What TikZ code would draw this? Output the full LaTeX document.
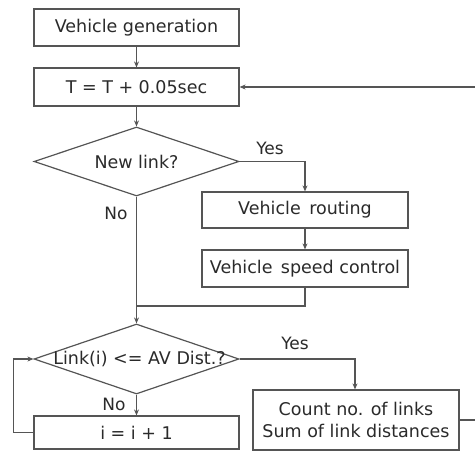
\documentclass[tikz,border=0pt]{standalone}
\usepackage{fontspec}
\setmainfont{DejaVu Sans}
\usetikzlibrary{arrows.meta,shapes.geometric}
\definecolor{linegray}{HTML}{555555}
\definecolor{textgray}{HTML}{2a2a2a}
\tikzset{
  box/.style={draw=linegray, line width=1.2pt, rectangle, minimum width=205pt,
    inner sep=0pt, align=center, text=textgray, font=\fontsize{17.5}{22}\selectfont},
  decision/.style={draw=linegray, line width=1.2pt, diamond, minimum width=205pt,
    minimum height=69pt, inner sep=0pt, text=textgray, font=\fontsize{17.5}{22}\selectfont},
  flow/.style={draw=linegray, line width=1.2pt, -{Stealth[length=6pt,width=5pt]}},
  link/.style={draw=linegray, line width=1.2pt},
  tag/.style={text=textgray, font=\fontsize{17}{20}\selectfont, inner sep=0pt}
}
\begin{document}
\begin{tikzpicture}[x=1pt,y=-1pt]
\useasboundingbox[fill=white] (0,0) rectangle (475,456);

% process boxes
\node[box, minimum height=37pt] (gen) at (136.5,27.5) {Vehicle generation};
\node[box, minimum height=38pt] (tick) at (136.5,87) {T = T + 0.05sec};
\node[decision] (newlink) at (136.5,161.5) {\makebox[0pt]{New link?}};
\node[box, minimum width=206pt, minimum height=36pt] (route) at (305,210) {Vehicle\, routing};
\node[box, minimum width=206pt, minimum height=37pt] (speed) at (305,268.5) {Vehicle\, speed control};
\node[decision, minimum height=70pt] (dist) at (136.5,359) {\makebox[0pt]{\hspace*{6pt}Link(i) <= AV Dist.?}};
\node[box, minimum height=33pt] (incr) at (136.5,432.5) {i = i + 1};
\node[box, minimum width=206pt, minimum height=60pt, font=\fontsize{17.5}{22}\selectfont] (count) at (356,420) {Count no. of links\\Sum of link distances};

% helper points
\coordinate (merge) at (136.5,306);
\coordinate (backtop) at (478,87);
\coordinate (backbot) at (478,420);

% branch labels
\node[tag] (yes1) at (270,148) {Yes};
\node[tag] (no1) at (116,213) {No};
\node[tag] (yes2) at (295,343) {Yes};
\node[tag] (no2) at (114,404) {No};

% connectors
\draw[flow] (gen) -- (tick);
\draw[flow] (tick) -- (newlink);
\draw[flow] (newlink.east) -| (route.north);
\draw[flow] (route) -- (speed);
\draw[link] (speed.south) |- (merge);
\draw[flow] (newlink.south) -- (dist.north);
\draw[flow] (dist.south) -- (incr.north);
\draw[flow] (incr.west) -- ++(-20,0) |- (dist.west);
\draw[flow] (dist.east) -| ([xshift=-1pt]count.north);
\draw[flow] (count.east) -- (backbot) -- (backtop) -- (tick.east);
\end{tikzpicture}
\end{document}
